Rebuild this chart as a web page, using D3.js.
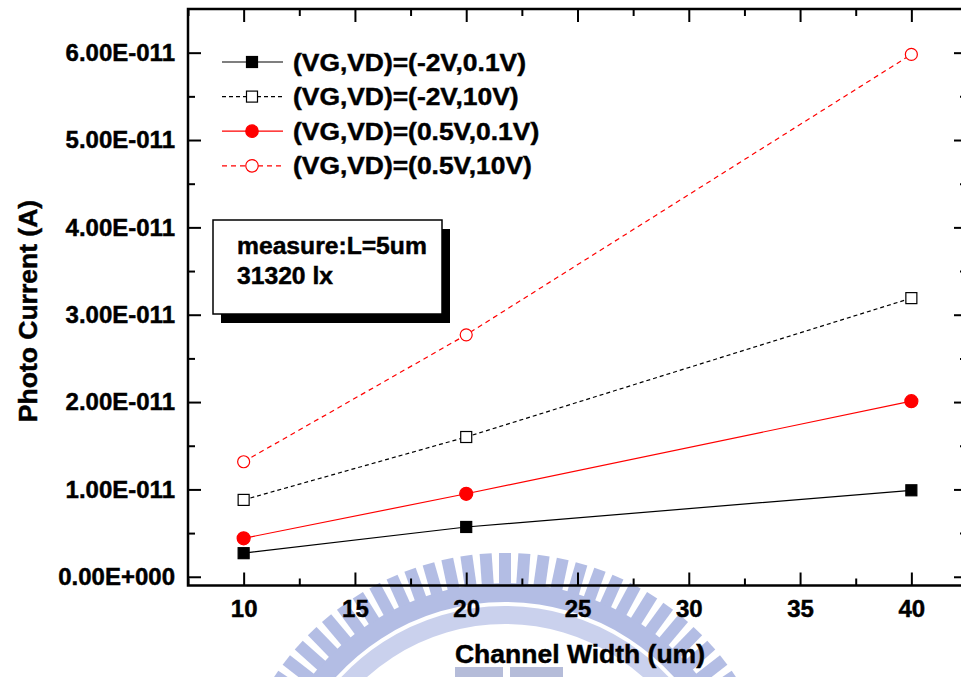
<!DOCTYPE html>
<html>
<head>
<meta charset="utf-8">
<script src="https://cdn.jsdelivr.net/npm/d3@7"></script>
<style>
  html, body { margin: 0; padding: 0; background: #fff; }
  svg { display: block; }
  text { font-family: "Liberation Sans", Arial, Helvetica, sans-serif; font-weight: bold; fill: #000; stroke: #000; stroke-width: 0.45px; }
</style>
</head>
<body>
<svg id="chart" width="961" height="677"></svg>
<script>
// ---- data ----
const channelWidths = [10, 20, 40];
const seriesNames = ["(VG,VD)=(-2V,0.1V)", "(VG,VD)=(-2V,10V)", "(VG,VD)=(0.5V,0.1V)", "(VG,VD)=(0.5V,10V)"];
const vgm2_vd01 = [2.7e-12, 5.7e-12, 9.9e-12];
const vgm2_vd10 = [8.8e-12, 1.6e-11, 3.19e-11];
const vg05_vd01 = [4.4e-12, 9.5e-12, 2.01e-11];
const vg05_vd10 = [1.317e-11, 2.77e-11, 5.98e-11];
const xTickValues = [10, 15, 20, 25, 30, 35, 40];
const xMinorValues = [7.5, 12.5, 17.5, 22.5, 27.5, 32.5, 37.5, 42.5];
const yTickValues = [0, 1e-11, 2e-11, 3e-11, 4e-11, 5e-11, 6e-11];
const yTickLabels = ["0.00E+000", "1.00E-011", "2.00E-011", "3.00E-011", "4.00E-011", "5.00E-011", "6.00E-011"];
const yMinorValues = [0.5e-11, 1.5e-11, 2.5e-11, 3.5e-11, 4.5e-11, 5.5e-11];
const noteLines = ["measure:L=5um", "31320 lx"];
const xTitle = "Channel Width (um)";
const yTitle = "Photo Current (A)";

const series = [
  {name: seriesNames[0], values: vgm2_vd01, color: "#000", dash: null, shape: "square", filled: true},
  {name: seriesNames[1], values: vgm2_vd10, color: "#000", dash: "4,3", shape: "square", filled: false},
  {name: seriesNames[2], values: vg05_vd01, color: "#ff0000", dash: null, shape: "circle", filled: true},
  {name: seriesNames[3], values: vg05_vd10, color: "#ff0000", dash: "5,4", shape: "circle", filled: false}
];

const svg = d3.select("#chart");
const L = 188, R = 967, T = 9, B = 585.5;
const x = d3.scaleLinear().domain([7.5, 42.5]).range([L, R]);
const y = d3.scaleLinear().domain([-1e-12, 6.5e-11]).range([B, T]);

// ---- watermark (faded logo) ----
const wm = svg.append("g").attr("transform", "translate(505,830)").attr("opacity", 0.7);
wm.append("path")
  .attr("d", d3.arc().innerRadius(206).outerRadius(224).startAngle(-1.15).endAngle(1.15)())
  .attr("fill", "#b4bee6");
wm.append("path")
  .attr("d", d3.arc().innerRadius(228).outerRadius(247).startAngle(-1.15).endAngle(1.15)())
  .attr("fill", "#93a2da");
d3.range(-0.98, 0.981, 0.07).forEach(a => {
  wm.append("rect")
    .attr("x", -6).attr("y", -277).attr("width", 12).attr("height", 31)
    .attr("fill", "#93a2da")
    .attr("transform", `rotate(${a * 180 / Math.PI})`);
});
svg.append("rect").attr("x", 455).attr("y", 667).attr("width", 48).attr("height", 10).attr("fill", "#a3abd0").attr("opacity", 0.8);
svg.append("rect").attr("x", 510).attr("y", 667).attr("width", 53).attr("height", 10).attr("fill", "#a3abd0").attr("opacity", 0.8);

// ---- axes (inward ticks on all four sides) ----
function styleAxis(g) {
  g.select(".domain").remove();
  g.selectAll(".tick line").attr("stroke", "#000").attr("stroke-width", 2);
}
svg.append("g").attr("transform", `translate(0,${B})`)
  .call(d3.axisBottom(x).tickValues(xTickValues).tickSize(-13).tickPadding(14).tickFormat(d3.format("d")))
  .call(styleAxis)
  .selectAll("text").style("font-size", "24px").attr("font-family", null);
svg.append("g").attr("transform", `translate(0,${B})`)
  .call(d3.axisBottom(x).tickValues(xMinorValues).tickSize(-7).tickFormat(""))
  .call(styleAxis);
svg.append("g").attr("transform", `translate(0,${T})`)
  .call(d3.axisTop(x).tickValues(xTickValues).tickSize(-13).tickFormat(""))
  .call(styleAxis);
svg.append("g").attr("transform", `translate(0,${T})`)
  .call(d3.axisTop(x).tickValues(xMinorValues).tickSize(-7).tickFormat(""))
  .call(styleAxis);
svg.append("g").attr("transform", `translate(${L},0)`)
  .call(d3.axisLeft(y).tickValues(yTickValues).tickSize(-13).tickPadding(13)
        .tickFormat((d, i) => yTickLabels[i]))
  .call(styleAxis)
  .selectAll("text").style("font-size", "24px").attr("font-family", null);
svg.append("g").attr("transform", `translate(${L},0)`)
  .call(d3.axisLeft(y).tickValues(yMinorValues).tickSize(-7).tickFormat(""))
  .call(styleAxis);
svg.append("g").attr("transform", `translate(${R},0)`)
  .call(d3.axisRight(y).tickValues(yTickValues).tickSize(-13).tickFormat(""))
  .call(styleAxis);
svg.append("g").attr("transform", `translate(${R},0)`)
  .call(d3.axisRight(y).tickValues(yMinorValues).tickSize(-7).tickFormat(""))
  .call(styleAxis);

svg.append("rect").attr("x", L).attr("y", T).attr("width", R - L).attr("height", B - T)
  .attr("fill", "none").attr("stroke", "#000").attr("stroke-width", 2.5);

// ---- axis titles ----
svg.append("text").attr("x", 580).attr("y", 663).attr("text-anchor", "middle")
  .style("font-size", "26.5px").text(xTitle);
svg.append("text").attr("transform", "translate(37,311) rotate(-90)").attr("text-anchor", "middle")
  .style("font-size", "26.5px").text(yTitle);

// ---- series ----
function drawMarker(g, shape, filled, color, cx, cy, size) {
  if (shape === "square") {
    g.append("rect").attr("x", cx - size / 2).attr("y", cy - size / 2)
      .attr("width", size).attr("height", size)
      .attr("fill", filled ? color : "#fff").attr("stroke", color).attr("stroke-width", 1.2);
  } else {
    g.append("circle").attr("cx", cx).attr("cy", cy).attr("r", size / 2)
      .attr("fill", filled ? color : "#fff").attr("stroke", color).attr("stroke-width", 1.2);
  }
}
const line = d3.line().x(d => x(d[0])).y(d => y(d[1]));
series.forEach(s => {
  const pts = channelWidths.map((w, i) => [w, s.values[i]]);
  svg.append("path").attr("d", line(pts)).attr("fill", "none")
    .attr("stroke", s.color).attr("stroke-width", 1.2)
    .attr("stroke-dasharray", s.dash);
  const g = svg.append("g");
  pts.forEach(p => drawMarker(g, s.shape, s.filled, s.color, x(p[0]), y(p[1]),
                               s.shape === "square" ? 11 : (s.filled ? 13 : 12)));
});

// ---- legend ----
const leg = svg.append("g");
series.forEach((s, i) => {
  const cy = 62 + i * 34.6;
  leg.append("line").attr("x1", 222).attr("x2", 283).attr("y1", cy).attr("y2", cy)
    .attr("stroke", s.color).attr("stroke-width", 1.2).attr("stroke-dasharray", s.dash);
  drawMarker(leg, s.shape, s.filled, s.color, 252, cy, s.shape === "square" ? 11 : 12.5);
  leg.append("text").attr("transform", `translate(293,${cy + 8.5}) scale(1.1,1)`)
    .style("font-size", "24px").text(s.name);
});

// ---- note box with shadow ----
svg.append("rect").attr("x", 221).attr("y", 229).attr("width", 229).attr("height", 94).attr("fill", "#000");
svg.append("rect").attr("x", 213).attr("y", 220).attr("width", 229).attr("height", 94)
  .attr("fill", "#fff").attr("stroke", "#000").attr("stroke-width", 1.5);
noteLines.forEach((t, i) => {
  svg.append("text").attr("transform", `translate(237,${254 + i * 30}) scale(1.05,1)`)
    .style("font-size", "23.5px").text(t);
});
</script>
</body>
</html>
